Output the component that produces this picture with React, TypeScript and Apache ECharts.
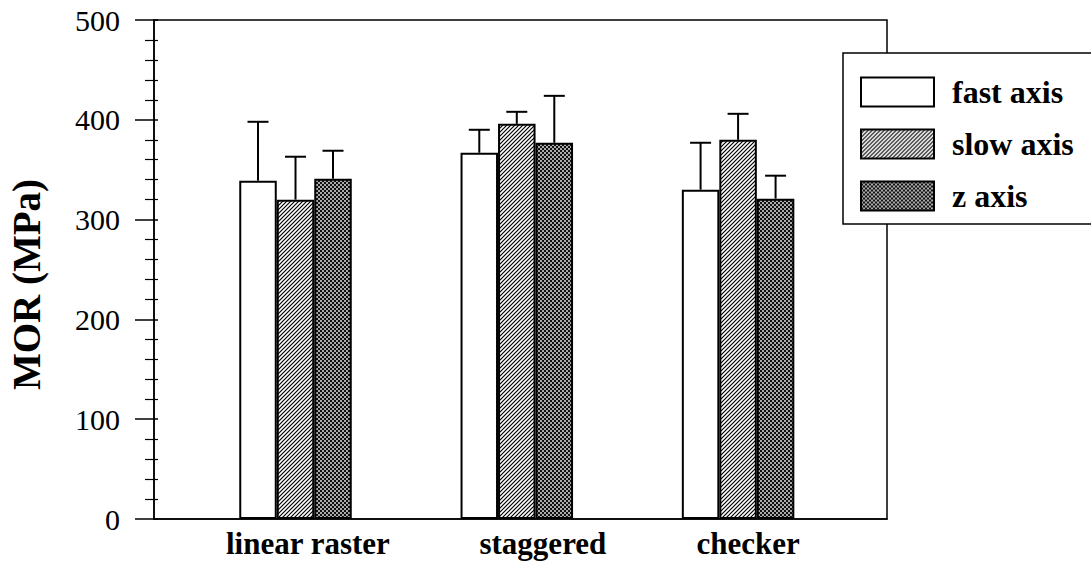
import React, { useEffect, useRef } from "react";
import * as echarts from "echarts";

const categories = ["linear raster", "staggered", "checker"];
const categoryX = [1, 2, 3];
const labelX = [1.056, 2.118, 3.045];
const seriesNames = ["fast axis", "slow axis", "z axis"];
const fastValues = [339, 367, 330];
const slowValues = [320, 396, 380];
const zValues = [341, 377, 321];
const fastErr = [59, 23, 47];
const slowErr = [43, 12, 26];
const zErr = [28, 47, 23];
const yTicks = [0, 100, 200, 300, 400, 500];

const FONT = "Liberation Serif";
const BAR_W = 37.5;

function makeHatch(): HTMLCanvasElement {
  const c = document.createElement("canvas");
  c.width = 4;
  c.height = 4;
  const g = c.getContext("2d")!;
  g.fillStyle = "#fff";
  g.fillRect(0, 0, 4, 4);
  g.strokeStyle = "#000";
  g.lineWidth = 1.2;
  g.beginPath();
  g.moveTo(-1, 5);
  g.lineTo(5, -1);
  g.moveTo(-1, 1);
  g.lineTo(1, -1);
  g.moveTo(3, 5);
  g.lineTo(5, 3);
  g.stroke();
  return c;
}

function makeCross(): HTMLCanvasElement {
  const c = document.createElement("canvas");
  c.width = 4;
  c.height = 4;
  const g = c.getContext("2d")!;
  g.fillStyle = "#111";
  g.fillRect(0, 0, 4, 4);
  g.fillStyle = "#fff";
  g.fillRect(0.2, 0.2, 1.6, 1.6);
  g.fillRect(2.2, 2.2, 1.6, 1.6);
  return c;
}

export default function App() {
  const ref = useRef<HTMLDivElement>(null);
  useEffect(() => {
    if (!ref.current) return;
    const chart = echarts.init(ref.current, undefined, { renderer: "svg" });
    const hatch = makeHatch();
    const cross = makeCross();
    const fills: any[] = [
      "#fff",
      { image: hatch, repeat: "repeat", imageWidth: 4, imageHeight: 4 },
      { image: cross, repeat: "repeat", imageWidth: 4, imageHeight: 4 },
    ];
    const values = [fastValues, slowValues, zValues];
    const errs = [fastErr, slowErr, zErr];

    const barSeries = seriesNames.map((name, k) => ({
      name,
      type: "bar",
      xAxisIndex: 0,
      yAxisIndex: 0,
      barWidth: BAR_W,
      barGap: "0%",
      data: categoryX.map((x, i) => [x, values[k][i]]),
      itemStyle: { color: fills[k], borderColor: "#000", borderWidth: 2 },
      z: 2,
    }));

    const errSeries = seriesNames.map((name, k) => ({
      name: name + " error",
      type: "custom",
      xAxisIndex: 0,
      yAxisIndex: 0,
      z: 3,
      encode: { x: 0, y: 1 },
      data: categoryX.map((x, i) => [x, values[k][i], errs[k][i]]),
      renderItem: (params: any, api: any) => {
        const x = api.value(0);
        const v = api.value(1);
        const e = api.value(2);
        const p0 = api.coord([x, v]);
        const p1 = api.coord([x, v + e]);
        const off = (k - 1) * BAR_W;
        const cx = p0[0] + off;
        const st = { stroke: "#000", lineWidth: 2 };
        return {
          type: "group",
          children: [
            { type: "line", shape: { x1: cx, y1: p0[1], x2: cx, y2: p1[1] }, style: st },
            { type: "line", shape: { x1: cx - 10.5, y1: p1[1], x2: cx + 10.5, y2: p1[1] }, style: st },
          ],
        };
      },
    }));

    chart.setOption({
      animation: false,
      backgroundColor: "#fff",
      textStyle: { fontFamily: FONT },
      grid: {
        left: 154,
        top: 20,
        width: 733,
        height: 499,
        show: true,
        borderColor: "#000",
        borderWidth: 1.5,
        backgroundColor: "transparent",
        containLabel: false,
        outerBoundsMode: "none",
      },
      legend: {
        data: seriesNames,
        orient: "vertical",
        left: 843,
        top: 53,
        itemWidth: 73,
        itemHeight: 29,
        itemGap: 20,
        padding: [23, 80, 12, 17],
        backgroundColor: "#fff",
        borderColor: "#000",
        borderWidth: 1.5,
        icon: "rect",
        itemStyle: { borderColor: "#000", borderWidth: 2 },
        textStyle: {
          fontFamily: FONT,
          fontWeight: "bold",
          fontSize: 32,
          color: "#000",
          lineHeight: 29,
          padding: [0, 0, 0, 13],
        },
        selectedMode: false,
        z: 10,
      },
      xAxis: {
        type: "value",
        min: 0.3605,
        max: 3.673,
        axisLine: { show: true, onZero: false, lineStyle: { color: "#000", width: 1.5 } },
        axisTick: { show: false },
        splitLine: { show: false },
        axisLabel: {
          customValues: labelX,
          formatter: (val: number) => categories[Math.round(val) - 1] ?? "",
          fontFamily: FONT,
          fontWeight: "bold",
          fontSize: 31,
          color: "#000",
          margin: 9,
        },
      },
      yAxis: [
        {
          type: "value",
          min: 0,
          max: 500,
          interval: 100,
          position: "left",
          name: "MOR (MPa)",
          nameLocation: "middle",
          nameGap: 108,
          nameRotate: 90,
          nameTextStyle: {
            fontFamily: FONT,
            fontWeight: "bold",
            fontSize: 39,
            color: "#000",
            padding: [0, 30, 0, 0],
          },
          axisLine: { show: true, onZero: false, lineStyle: { color: "#000", width: 1.5 } },
          axisTick: { show: true, length: 19, lineStyle: { color: "#000", width: 1.5 } },
          minorTick: { show: true, splitNumber: 5, length: 9, lineStyle: { color: "#000", width: 1.2 } },
          splitLine: { show: false },
          axisLabel: {
            fontFamily: FONT,
            fontSize: 30,
            color: "#000",
            margin: 34,
            formatter: (v: number) => (yTicks.includes(v) ? String(v) : ""),
          },
        },
        {
          type: "value",
          min: 0,
          max: 500,
          interval: 100,
          position: "left",
          offset: 0,
          axisLine: { show: false, onZero: false },
          axisTick: { show: true, inside: true, length: 4, lineStyle: { color: "#000", width: 1.5 } },
          minorTick: { show: true, splitNumber: 5, length: 4, lineStyle: { color: "#000", width: 1.2 } },
          splitLine: { show: false },
          axisLabel: { show: false },
        },
      ],
      series: [...barSeries, ...errSeries],
    });
    return () => chart.dispose();
  }, []);
  return (
    <div
      ref={ref}
      style={{ position: "fixed", left: 0, top: 0, width: 1091, height: 571, background: "#fff" }}
    />
  );
}
